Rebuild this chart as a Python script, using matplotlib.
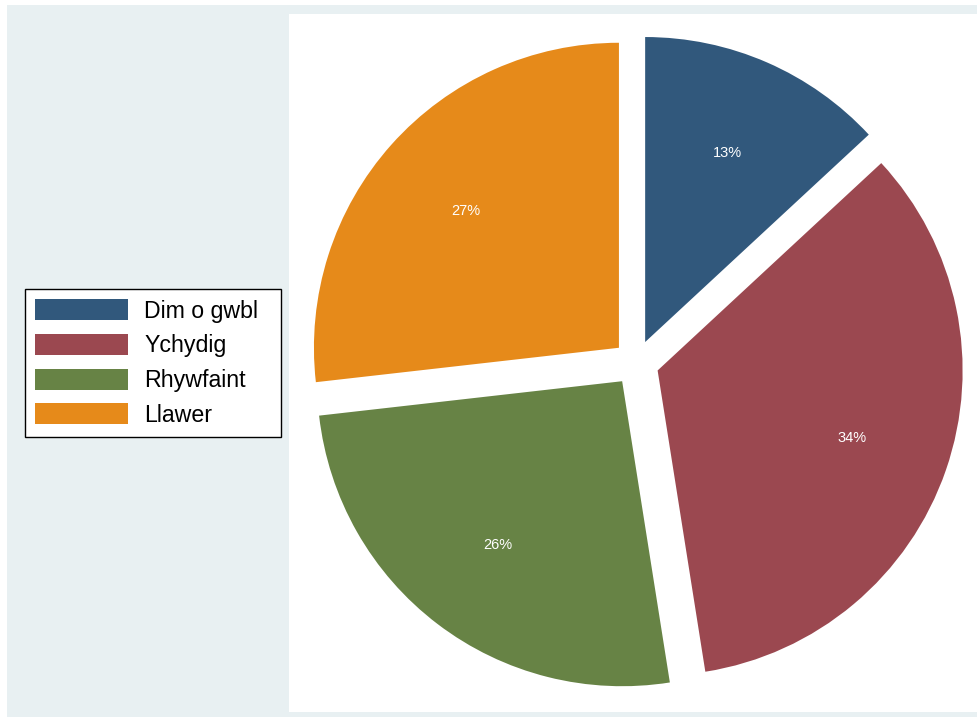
import matplotlib.pyplot as plt
from matplotlib.patches import Rectangle

plt.rcParams['font.family'] = ['Liberation Sans', 'DejaVu Sans']

# data
labels = ['Dim o gwbl', 'Ychydig', 'Rhywfaint', 'Llawer']
values = [13.1, 34.4, 25.7, 26.8]
colors = ['#31587c', '#9b4850', '#678345', '#e68a1a']

W, H = 978, 717
fig = plt.figure(figsize=(W / 100, H / 100), dpi=100)
fig.patch.set_facecolor('white')

# outer graph region and white plot region
fig.patches.append(Rectangle((7 / W, 0), 1, (H - 5) / H, transform=fig.transFigure,
                             facecolor='#e8f0f2', edgecolor='none', zorder=-2))
fig.patches.append(Rectangle((289 / W, 5 / H), 1, (712 - 14) / H, transform=fig.transFigure,
                             facecolor='white', edgecolor='none', zorder=-1))

# pie axes: centre at (636, 363) px, radius 305 px
cx, cy, R = 636, 363, 305
half = 350
ax = fig.add_axes([(cx - half) / W, (H - cy - half) / H, 2 * half / W, 2 * half / H])
ax.axis('off')
lim = half / R

wedges, texts, autotexts = ax.pie(
    values, colors=colors, startangle=90, counterclock=False,
    explode=[0.075] * len(values), autopct='%1.0f%%', pctdistance=0.675,
    radius=1, wedgeprops=dict(linewidth=0),
    textprops=dict(color='white', fontsize=10.5))
ax.set_xlim(-lim, lim)
ax.set_ylim(-lim, lim)
ax.set_aspect('equal')

# legend box spans x 25..281 px, centred at y 363 px
leg = fig.legend(wedges, labels, loc='center', mode='expand',
                 bbox_to_anchor=(25 / W, 1 - 438 / H, 256 / W, 150 / H),
                 fontsize=16.7, frameon=True, fancybox=False, framealpha=1,
                 handlelength=4.0, handleheight=1.03, labelspacing=0.48,
                 handletextpad=0.7, borderpad=0.45, borderaxespad=0)
leg.get_frame().set_edgecolor('black')
leg.get_frame().set_facecolor('white')
leg.get_frame().set_linewidth(1)

fig.savefig('out.png', dpi=100, facecolor=fig.get_facecolor())
